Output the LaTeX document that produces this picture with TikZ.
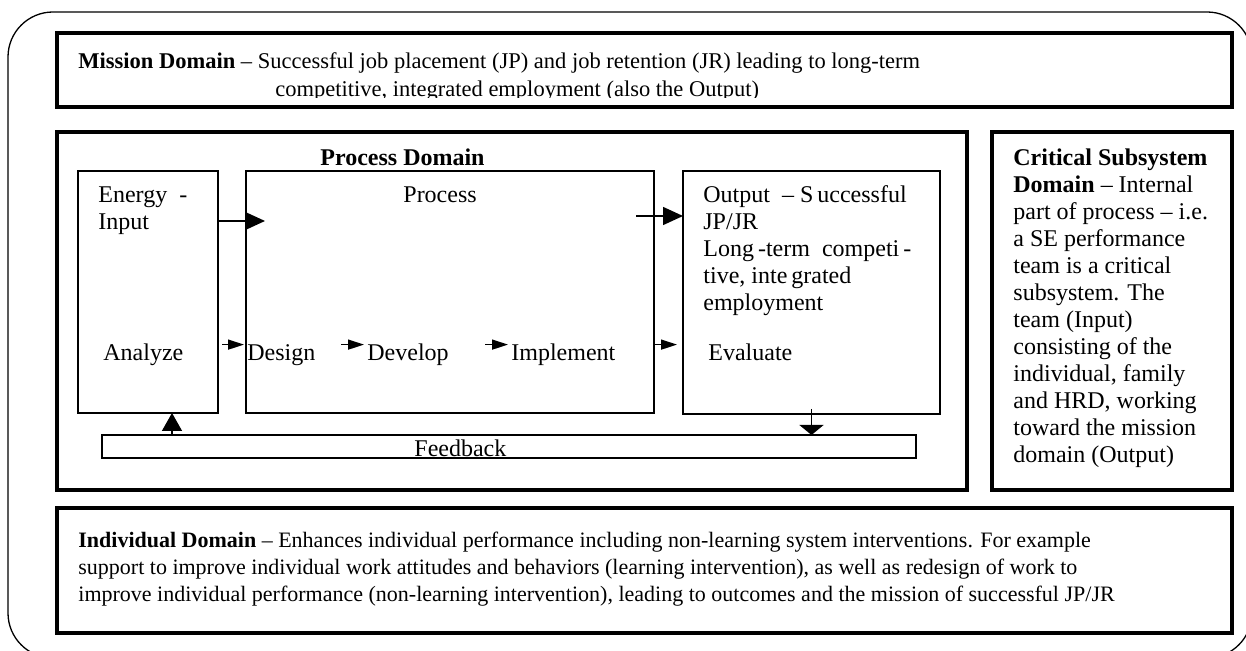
\documentclass[tikz,border=0pt]{standalone}
\usepackage{fontspec}
\setmainfont{Liberation Serif}
\usetikzlibrary{arrows.meta, fit}

\begin{document}
\begin{tikzpicture}[x=0.5pt, y=-0.5pt, font=\fontsize{12}{13.5}\selectfont]
  \tikzstyle{domainbox}=[draw, line width=1.8pt, inner sep=0pt, outer sep=0pt]
  \tikzstyle{stagebox}=[draw, line width=.75pt, inner sep=0pt, outer sep=0pt]
  \tikzstyle{words}=[anchor=base west, inner sep=0pt, align=left]
  \tikzstyle{rowtext}=[anchor=base west, inner xsep=1.5pt, inner ysep=0pt, text height=8pt, text depth=2pt]
  \tikzstyle{bigarrow}=[draw, line width=.75pt, -{Triangle[length=10pt, width=9pt]}]
  \tikzstyle{smallarrow}=[draw, line width=.75pt, -{Triangle[length=8pt, width=5pt]}]

  % page frame
  \useasboundingbox (0,0) rectangle (1246,651);
  \clip (0,0) rectangle (1246,651);
  \draw[line width=.65pt, rounded corners=22.5pt] (8,12) rectangle (1252,658);

  % the four domains
  \node[domainbox, fit={(57,33) (1232,107)}] (mission) {};
  \node[domainbox, fit={(57,132) (967,490)}] (procdom) {};
  \node[domainbox, fit={(992,132) (1232,490)}] (critical) {};
  \node[domainbox, fit={(57,508) (1232,633)}] (individual) {};

  % second line runs into the frame and is cut
  \begin{scope}[font=\fontsize{11.25}{13.5}\selectfont]
    \clip (57,33) rectangle (1232,98);
    \node[words] (missiontext) at (78,69) {\textbf{Mission Domain} – Successful job placement (JP) and job retention (JR) leading to long-term};
    \node[words] (missiontext2) at (275,96.5) {competitive, integrated employment (also the Output)};
  \end{scope}

  % process domain
  \node[words] (proctitle) at (320,166) {\textbf{Process Domain}};
  \node[stagebox, fit={(78,171) (218,413)}] (energy) {};
  \node[stagebox, fit={(246,171) (654,413)}] (process) {};
  \node[stagebox, fit={(683,171) (940,414)}] (output) {};
  \node[stagebox, fit={(102,435) (916,458)}] (feedback) {};

  % multi-line texts sit on their last line
  \node[words] (energytext) at (98,230) {Energy\ \ -\\Input};
  \node[words] (processtext) at (403,203) {Process};
  \node[words] (outputtext) at (703,311) {Output\ \ – S\,uccessful\\JP/JR\\Long\,-term\ \ competi\,-\\tive,\ inte\,grated\\employment};

  \node[rowtext] (analyze) at (100,361) {Analyze};
  \node[rowtext] (design) at (244,361) {Design};
  \node[rowtext] (develop) at (364,361) {Develop};
  \node[rowtext] (implement) at (508,361) {Implement};
  \node[rowtext] (evaluate) at (705,361) {Evaluate};
  \node[words] (fbtext) at (414,457) {Feedback};

  \coordinate (ein) at (218,221);
  \coordinate (pout) at (636,216);
  \coordinate (upx) at (172,0);
  \draw[bigarrow, shorten >=-9.5pt] (ein) -- (process.west |- ein);
  \draw[bigarrow] (pout) -- (output.west |- pout);
  \draw[smallarrow, shorten <=2pt] (energy.east |- design.north west) -- (design.north west);
  \draw[smallarrow] ([xshift=-11.5pt]develop.north west) -- (develop.north west);
  \draw[smallarrow] ([xshift=-11.5pt]implement.north west) -- (implement.north west);
  \draw[smallarrow, shorten >=3pt] (process.east |- evaluate.north west) -- (output.west |- evaluate.north west);
  \draw[line width=.75pt, -{Triangle[length=9pt, width=10pt]}] (feedback.north -| upx) -- (energy.south -| upx);
  \draw[line width=.75pt, -{Triangle[length=5pt, width=12pt]}] ([yshift=2.5pt]output.south) -- (output.south |- feedback.north);

  % side and bottom domains
  \node[words] (criticaltext) at (1013,463) {\textbf{Critical Subsystem}\\\textbf{Domain} – Internal\\part of process – i.e.\\a SE performance\\team is a critical\\subsystem. The\\team (Input)\\consisting of the\\individual, family\\and HRD, working\\toward the mission\\domain (Output)};
  \node[words, font=\fontsize{11}{13.5}\selectfont] (individualtext) at (78,601) {\textbf{Individual Domain} – Enhances individual performance including non-learning system interventions. For example\\support to improve individual work attitudes and behaviors (learning intervention), as well as redesign of work to\\improve individual performance (non-learning intervention), leading to outcomes and the mission of successful JP/JR};
\end{tikzpicture}
\end{document}
